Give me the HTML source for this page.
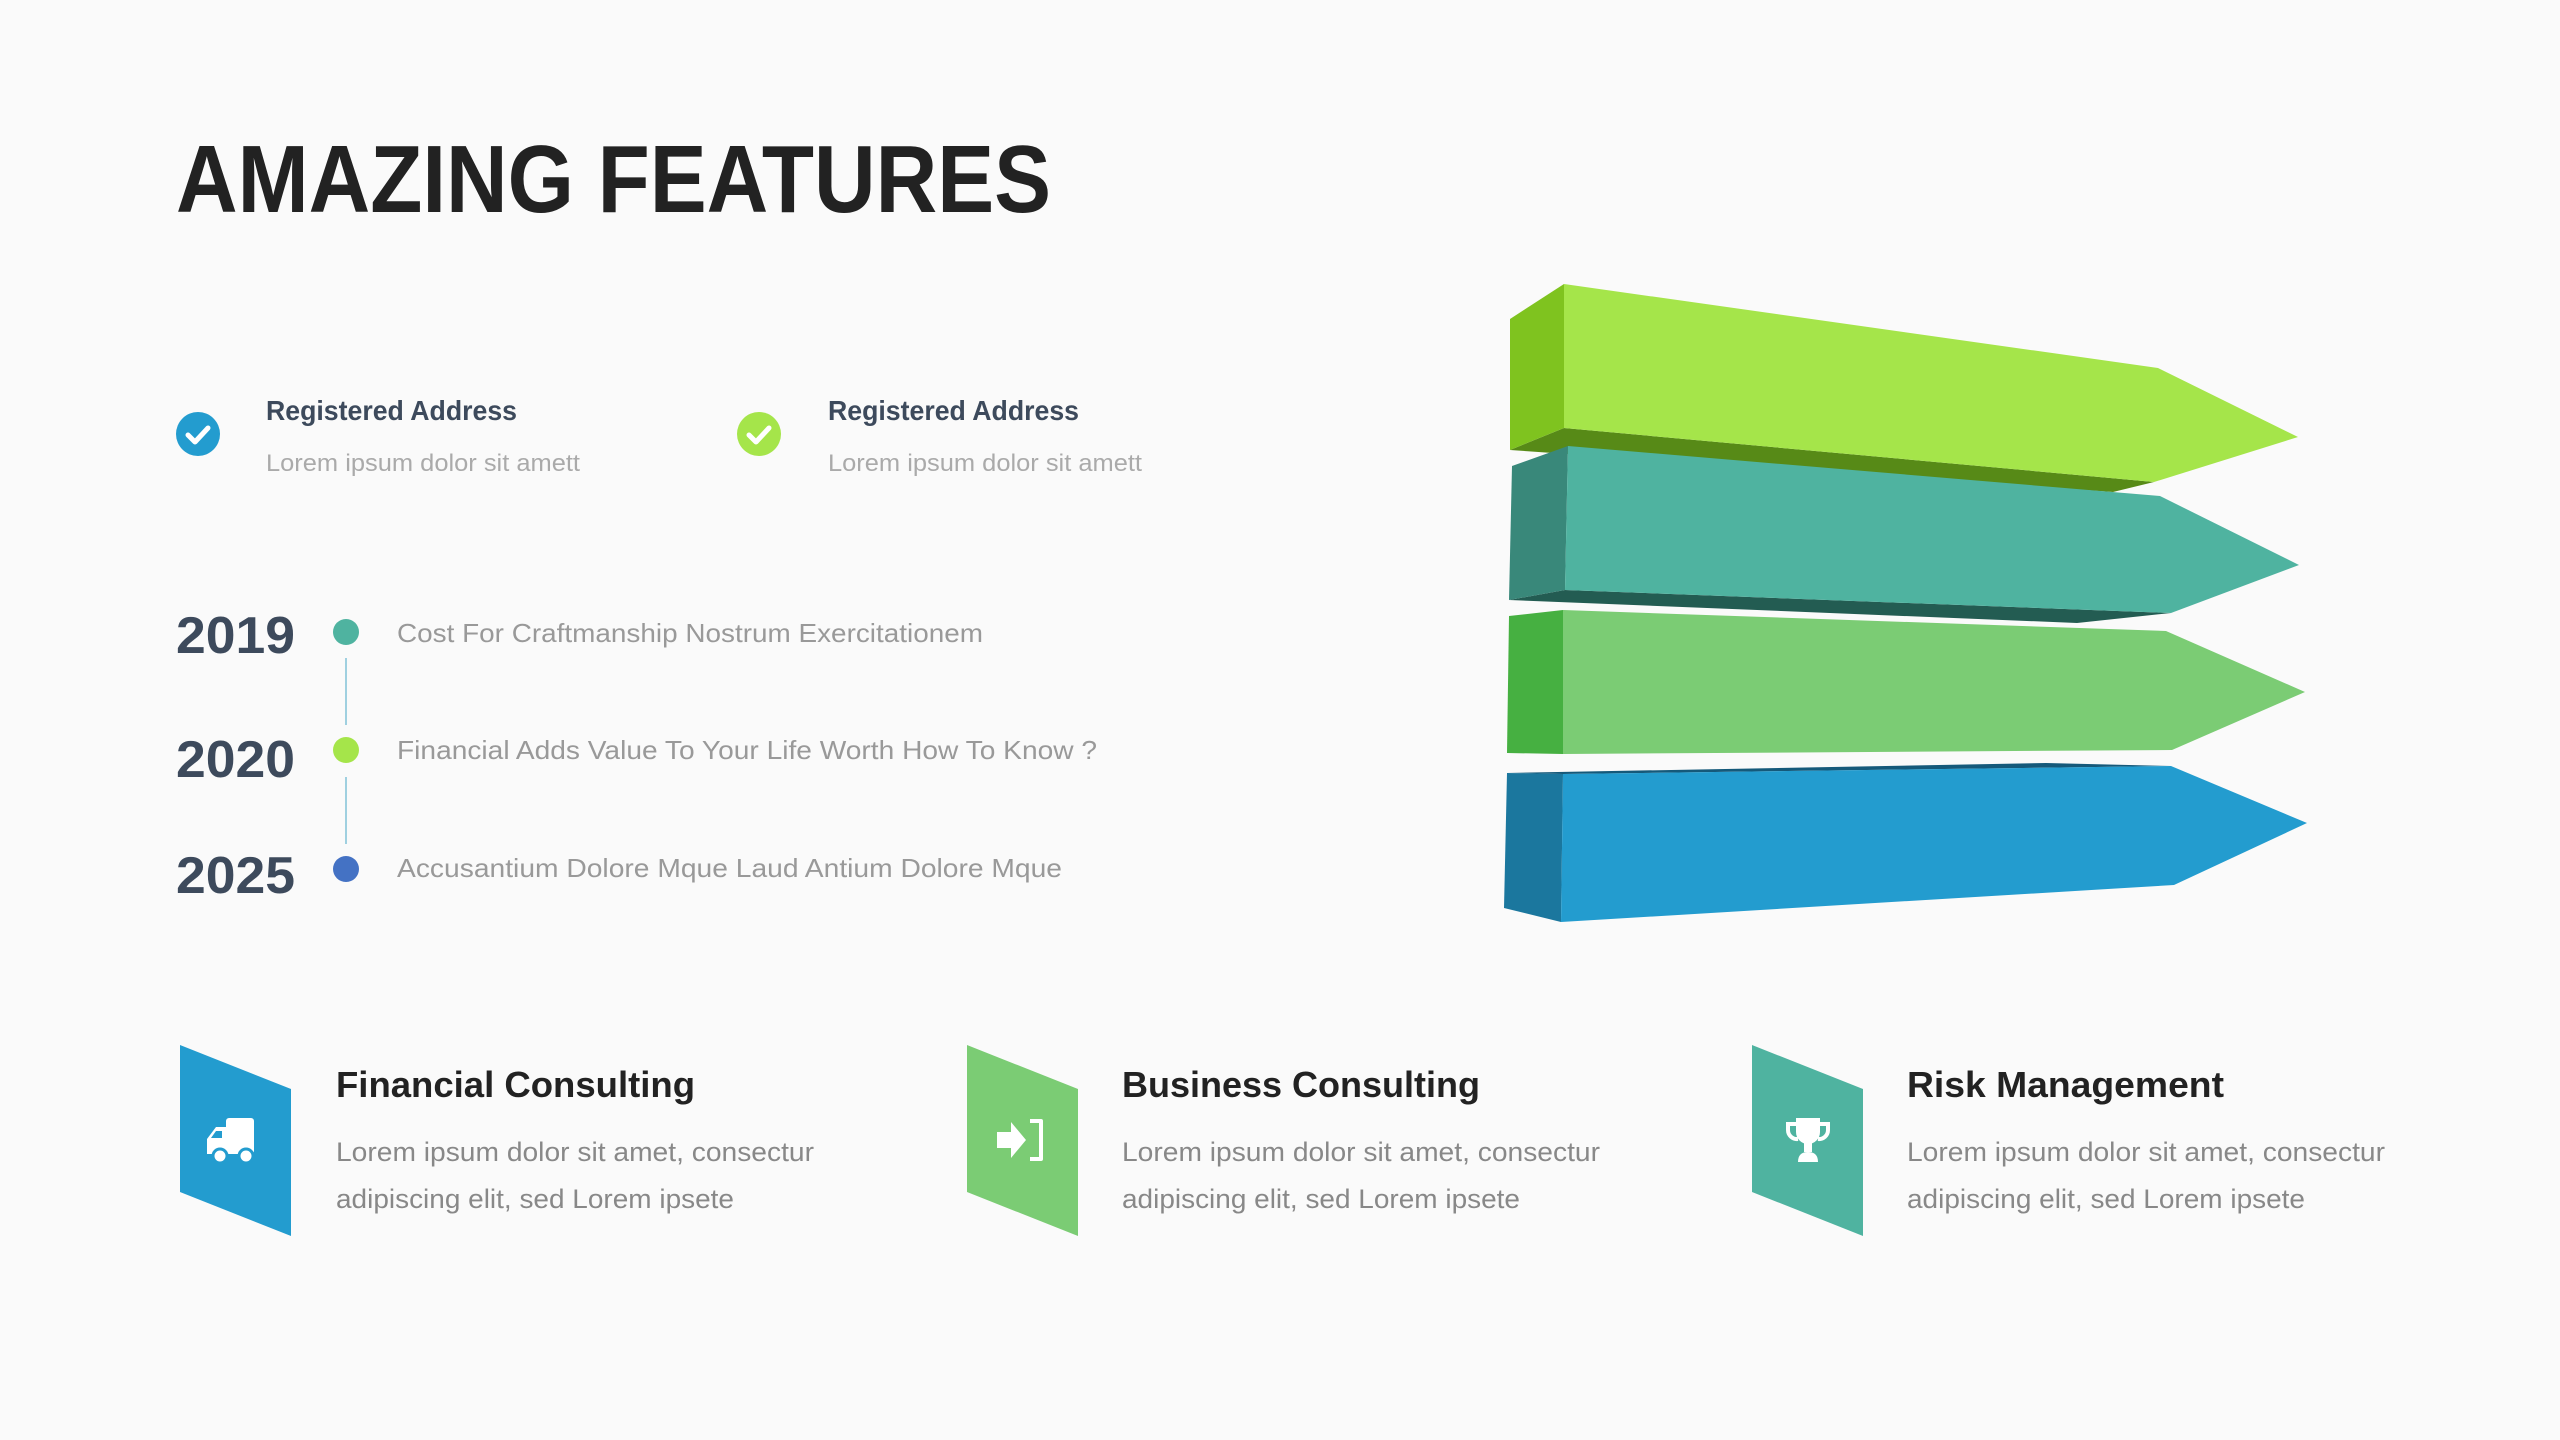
<!DOCTYPE html>
<html><head><meta charset="utf-8"><style>
html,body{margin:0;padding:0;background:#fafafa;}
svg{display:block}
text{font-family:"Liberation Sans",sans-serif;}
</style></head><body>
<svg width="2560" height="1440" viewBox="0 0 2560 1440" xmlns="http://www.w3.org/2000/svg">
<rect width="2560" height="1440" fill="#fafafa"/>
<text x="176" y="212" font-size="96" font-weight="bold" fill="#222" textLength="875" lengthAdjust="spacingAndGlyphs">AMAZING FEATURES</text>

<circle cx="198" cy="434" r="22" fill="#239ccf"/>
<path d="M188 435 l7 7 l13 -14" stroke="#fff" stroke-width="5" fill="none" stroke-linecap="round" stroke-linejoin="round"/>
<text x="266" y="420" font-size="28" font-weight="bold" fill="#3d4a5c" textLength="251" lengthAdjust="spacingAndGlyphs">Registered Address</text>
<text x="266" y="471" font-size="24" fill="#aaa" textLength="314" lengthAdjust="spacingAndGlyphs">Lorem ipsum dolor sit amett</text>
<circle cx="759" cy="434" r="22" fill="#a5e54a"/>
<path d="M749 435 l7 7 l13 -14" stroke="#fff" stroke-width="5" fill="none" stroke-linecap="round" stroke-linejoin="round"/>
<text x="828" y="420" font-size="28" font-weight="bold" fill="#3d4a5c" textLength="251" lengthAdjust="spacingAndGlyphs">Registered Address</text>
<text x="828" y="471" font-size="24" fill="#aaa" textLength="314" lengthAdjust="spacingAndGlyphs">Lorem ipsum dolor sit amett</text>

<text x="176" y="653" font-size="52" font-weight="bold" fill="#3d4a5c" textLength="119" lengthAdjust="spacingAndGlyphs">2019</text>
<text x="176" y="777" font-size="52" font-weight="bold" fill="#3d4a5c" textLength="119" lengthAdjust="spacingAndGlyphs">2020</text>
<text x="176" y="893" font-size="52" font-weight="bold" fill="#3d4a5c" textLength="119" lengthAdjust="spacingAndGlyphs">2025</text>
<line x1="346" y1="658" x2="346" y2="725" stroke="#9fd0e0" stroke-width="2"/>
<line x1="346" y1="777" x2="346" y2="844" stroke="#9fd0e0" stroke-width="2"/>
<circle cx="346" cy="632" r="13" fill="#4fb3a0"/>
<circle cx="346" cy="750" r="13" fill="#a5e54a"/>
<circle cx="346" cy="869" r="13" fill="#4472c4"/>
<text x="397" y="642" font-size="26" fill="#999" textLength="586" lengthAdjust="spacingAndGlyphs">Cost For Craftmanship Nostrum Exercitationem</text>
<text x="397" y="759" font-size="26" fill="#999" textLength="700" lengthAdjust="spacingAndGlyphs">Financial Adds Value To Your Life Worth How To Know ?</text>
<text x="397" y="877" font-size="26" fill="#999" textLength="665" lengthAdjust="spacingAndGlyphs">Accusantium Dolore Mque Laud Antium Dolore Mque</text>

<!-- arrows -->
<polygon points="1510,450 1564,428 2154,482 2113,492" fill="#578a17"/>
<polygon points="1510,319 1564,284 1564,428 1510,450" fill="#7fc31f"/>
<polygon points="1564,284 2158,368 2298,437 2154,482 1564,428" fill="#a5e54a"/>

<polygon points="1509,600 1565,590 2171,613 2077,623" fill="#235c52"/>
<polygon points="1512,466 1568,446 1565,590 1509,600" fill="#39887a"/>
<polygon points="1568,446 2160,496 2299,565 2171,613 1565,590" fill="#4fb3a0"/>

<polygon points="1509,616 1563,610 1563,754 1507,753" fill="#46b041"/>
<polygon points="1563,610 2166,631 2305,692 2172,750 1563,754" fill="#7bcc74"/>

<polygon points="1507,773 2046,763 2171,766 1563,774" fill="#15597a"/>
<polygon points="1507,773 1563,774 1561,922 1504,908" fill="#1b779e"/>
<polygon points="1563,774 2171,766 2307,823 2174,885 1561,922" fill="#239ccf"/>

<polygon points="180,1045 291,1089 291,1236 180,1192" fill="#239ccf"/>
<g fill="#fff">
<rect x="226" y="1118" width="28" height="36" rx="3"/>
<path d="M226 1127 h-10 l-9 12 v15 h19 z"/>
<circle cx="220" cy="1156" r="7" stroke="#239ccf" stroke-width="3"/>
<circle cx="246" cy="1156" r="7" stroke="#239ccf" stroke-width="3"/>
</g>
<path d="M211 1138 l5 -7 h6 v7 z" fill="#239ccf"/>
<text x="336" y="1097" font-size="36" font-weight="bold" fill="#222" textLength="359" lengthAdjust="spacingAndGlyphs">Financial Consulting</text>
<text x="336" y="1161" font-size="27" fill="#888" textLength="478" lengthAdjust="spacingAndGlyphs">Lorem ipsum dolor sit amet, consectur</text>
<text x="336" y="1208" font-size="27" fill="#888" textLength="398" lengthAdjust="spacingAndGlyphs">adipiscing elit, sed Lorem ipsete</text>

<polygon points="967,1045 1078,1089 1078,1236 967,1192" fill="#7bcc74"/>
<path d="M997 1132 h14 v-10 l15 18 l-15 18 v-10 h-14 z" fill="#fff"/>
<path d="M1030 1121 h11 v38 h-11" stroke="#fff" stroke-width="4" fill="none" stroke-linejoin="round"/>
<text x="1122" y="1097" font-size="36" font-weight="bold" fill="#222" textLength="358" lengthAdjust="spacingAndGlyphs">Business Consulting</text>
<text x="1122" y="1161" font-size="27" fill="#888" textLength="478" lengthAdjust="spacingAndGlyphs">Lorem ipsum dolor sit amet, consectur</text>
<text x="1122" y="1208" font-size="27" fill="#888" textLength="398" lengthAdjust="spacingAndGlyphs">adipiscing elit, sed Lorem ipsete</text>

<polygon points="1752,1045 1863,1089 1863,1236 1752,1192" fill="#4fb3a0"/>
<path d="M1796 1118 h24 v14 a12 12 0 0 1 -24 0 z" fill="#fff"/>
<path d="M1796 1124 h-8 v6 a9 9 0 0 0 10 9 M1820 1124 h8 v6 a9 9 0 0 1 -10 9" stroke="#fff" stroke-width="4" fill="none"/>
<rect x="1804" y="1142" width="8" height="10" fill="#fff"/>
<path d="M1798 1162 q0 -10 10 -10 q10 0 10 10 z" fill="#fff"/>
<text x="1907" y="1097" font-size="36" font-weight="bold" fill="#222" textLength="317" lengthAdjust="spacingAndGlyphs">Risk Management</text>
<text x="1907" y="1161" font-size="27" fill="#888" textLength="478" lengthAdjust="spacingAndGlyphs">Lorem ipsum dolor sit amet, consectur</text>
<text x="1907" y="1208" font-size="27" fill="#888" textLength="398" lengthAdjust="spacingAndGlyphs">adipiscing elit, sed Lorem ipsete</text>
</svg>
</body></html>
